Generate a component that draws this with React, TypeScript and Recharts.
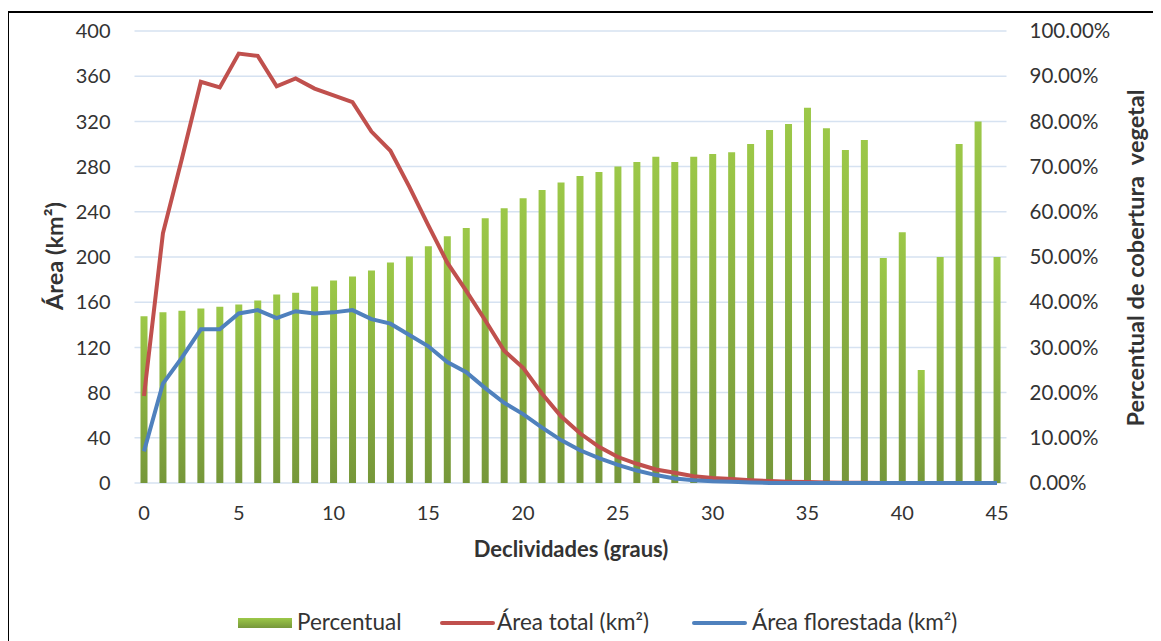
import React from 'react';
import { ComposedChart, Bar, Line, XAxis, YAxis, CartesianGrid } from 'recharts';

const categories = [0, 1, 2, 3, 4, 5, 6, 7, 8, 9, 10, 11, 12, 13, 14, 15, 16, 17, 18, 19, 20, 21, 22, 23, 24, 25, 26, 27, 28, 29, 30, 31, 32, 33, 34, 35, 36, 37, 38, 39, 40, 41, 42, 43, 44, 45];

const percentual = [0.369, 0.378, 0.381, 0.386, 0.39, 0.395, 0.404, 0.417, 0.421, 0.435, 0.448, 0.457, 0.47, 0.488, 0.501, 0.524, 0.546, 0.564, 0.586, 0.608, 0.63, 0.648, 0.665, 0.679, 0.688, 0.7, 0.71, 0.722, 0.71, 0.722, 0.728, 0.732, 0.75, 0.781, 0.794, 0.83, 0.785, 0.737, 0.759, 0.498, 0.555, 0.25, 0.5, 0.75, 0.8, 0.5];

const areaTotal = [77, 221, 287, 355, 350, 380, 378, 351, 358, 349, 343, 337, 311, 294, 262, 228, 195, 170, 144, 117, 102, 79, 59, 44, 32, 23, 17, 12, 9, 6, 4.5, 3.5, 2.5, 1.8, 1.2, 0.8, 0.5, 0.3, 0.2, 0.1, 0.1, 0, 0, 0, 0, 0];

const areaFlorestada = [28, 88, 111, 136, 136, 150, 153, 146, 152, 150, 151, 153, 145, 141, 131, 121, 107, 98, 84, 71, 61, 49, 38, 29, 22, 16, 11, 7, 4, 2.5, 1.5, 1, 0.5, 0, 0, 0, 0, 0, 0, 0, 0, 0, 0, 0, 0, 0];

const leftTicks = [0, 40, 80, 120, 160, 200, 240, 280, 320, 360, 400];
const rightTicks = [0, 0.1, 0.2, 0.3, 0.4, 0.5, 0.6, 0.7, 0.8, 0.9, 1];

const seriesNames = ['Percentual', 'Área total (km²)', 'Área florestada (km²)'];
const xTitle = 'Declividades (graus)';
const leftTitle = 'Área (km²)';
const rightTitle = 'Percentual de cobertura  vegetal';

const FONT = 'Lato, "Open Sans", sans-serif';
const TEXT = '#333333';
const GREEN_TOP = '#9CC848';
const GREEN_BOTTOM = '#76973A';
const RED = '#C0504D';
const BLUE = '#4F81BD';

const data = categories.map((c, i) => ({
  x: c,
  pct: percentual[i],
  total: areaTotal[i],
  flor: areaFlorestada[i],
}));

const Title = (props: any) => {
  const { tx, ty, rot, text, fs } = props;
  return (
    <text
      x={tx}
      y={ty}
      textAnchor="middle"
      transform={rot ? `rotate(${rot} ${tx} ${ty})` : undefined}
      fontFamily={FONT}
      fontWeight="bold"
      fontSize={fs}
      fill={TEXT}
      style={{ whiteSpace: 'pre' }}
    >
      {text}
    </text>
  );
};

export default function App() {
  return (
    <div style={{ position: 'relative', marginLeft: -8, marginTop: -8, width: 1161, height: 641, background: '#fff', overflow: 'hidden' }}>
      <div style={{ position: 'absolute', left: 7, top: 11, width: 1200, height: 700, borderTop: '2px solid #000', borderLeft: '2px solid #000' }} />
      <div style={{ position: 'absolute', left: 0, top: 0 }}>
        <ComposedChart width={1161} height={641} data={data} margin={{ top: 31, right: 0, bottom: 118, left: 0 }} style={{ fontFamily: FONT }}>
          <defs>
            <linearGradient id="barGrad" x1="0" y1="0" x2="0" y2="1">
              <stop offset="0" stopColor={GREEN_TOP} />
              <stop offset="1" stopColor={GREEN_BOTTOM} />
            </linearGradient>
          </defs>
          <CartesianGrid yAxisId="left" vertical={false} stroke="#D6E2F1" strokeWidth={1.5} />
          <XAxis
            dataKey="x"
            type="category"
            interval={4}
            axisLine={false}
            tickLine={false}
            tickSize={0}
            tickMargin={23}
            height={40}
            tick={{ fill: TEXT, fontSize: 20, fontFamily: FONT }}
            label={<Title tx={571} ty={557} fs={22} text={xTitle} />}
          />
          <YAxis
            yAxisId="left"
            orientation="left"
            domain={[0, 400]}
            ticks={leftTicks}
            interval={0}
            width={134.5}
            axisLine={false}
            tickLine={false}
            tickSize={0}
            tickMargin={24}
            tick={{ fill: TEXT, fontSize: 20, fontFamily: FONT }}
            label={<Title tx={63} ty={256} rot={-90} fs={23.5} text={leftTitle} />}
          />
          <YAxis
            yAxisId="right"
            orientation="right"
            domain={[0, 1]}
            ticks={rightTicks}
            interval={0}
            width={154.5}
            axisLine={false}
            tickLine={false}
            tickSize={0}
            tickMargin={23}
            tickFormatter={(v: number) => (v * 100).toFixed(2) + '%'}
            tick={{ fill: TEXT, fontSize: 20.5, fontFamily: FONT }}
            label={<Title tx={1144} ty={258} rot={-90} fs={23.5} text={rightTitle} />}
          />
          <Bar yAxisId="right" dataKey="pct" name={seriesNames[0]} fill="url(#barGrad)" barSize={7} isAnimationActive={false} />
          <Line yAxisId="left" dataKey="total" name={seriesNames[1]} type="linear" stroke={RED} strokeWidth={4} dot={false} activeDot={false} isAnimationActive={false} />
          <Line yAxisId="left" dataKey="flor" name={seriesNames[2]} type="linear" stroke={BLUE} strokeWidth={4} dot={false} activeDot={false} isAnimationActive={false} />
        </ComposedChart>
      </div>
      <div style={{ position: 'absolute', top: 0, left: 0, width: 1161, height: 641, pointerEvents: 'none', fontFamily: FONT, fontSize: 22.5, color: TEXT }}>
        <div style={{ position: 'absolute', left: 238, top: 618, width: 54, height: 10, background: `linear-gradient(${GREEN_TOP}, ${GREEN_BOTTOM})` }} />
        <div style={{ position: 'absolute', left: 297, top: 608, lineHeight: '28px', whiteSpace: 'nowrap' }}>{seriesNames[0]}</div>
        <div style={{ position: 'absolute', left: 440, top: 621, width: 55, height: 4, borderRadius: 2, background: RED }} />
        <div style={{ position: 'absolute', left: 497, top: 608, lineHeight: '28px', whiteSpace: 'nowrap' }}>{seriesNames[1]}</div>
        <div style={{ position: 'absolute', left: 692, top: 621, width: 55, height: 4, borderRadius: 2, background: BLUE }} />
        <div style={{ position: 'absolute', left: 752, top: 608, lineHeight: '28px', whiteSpace: 'nowrap' }}>{seriesNames[2]}</div>
      </div>
    </div>
  );
}
